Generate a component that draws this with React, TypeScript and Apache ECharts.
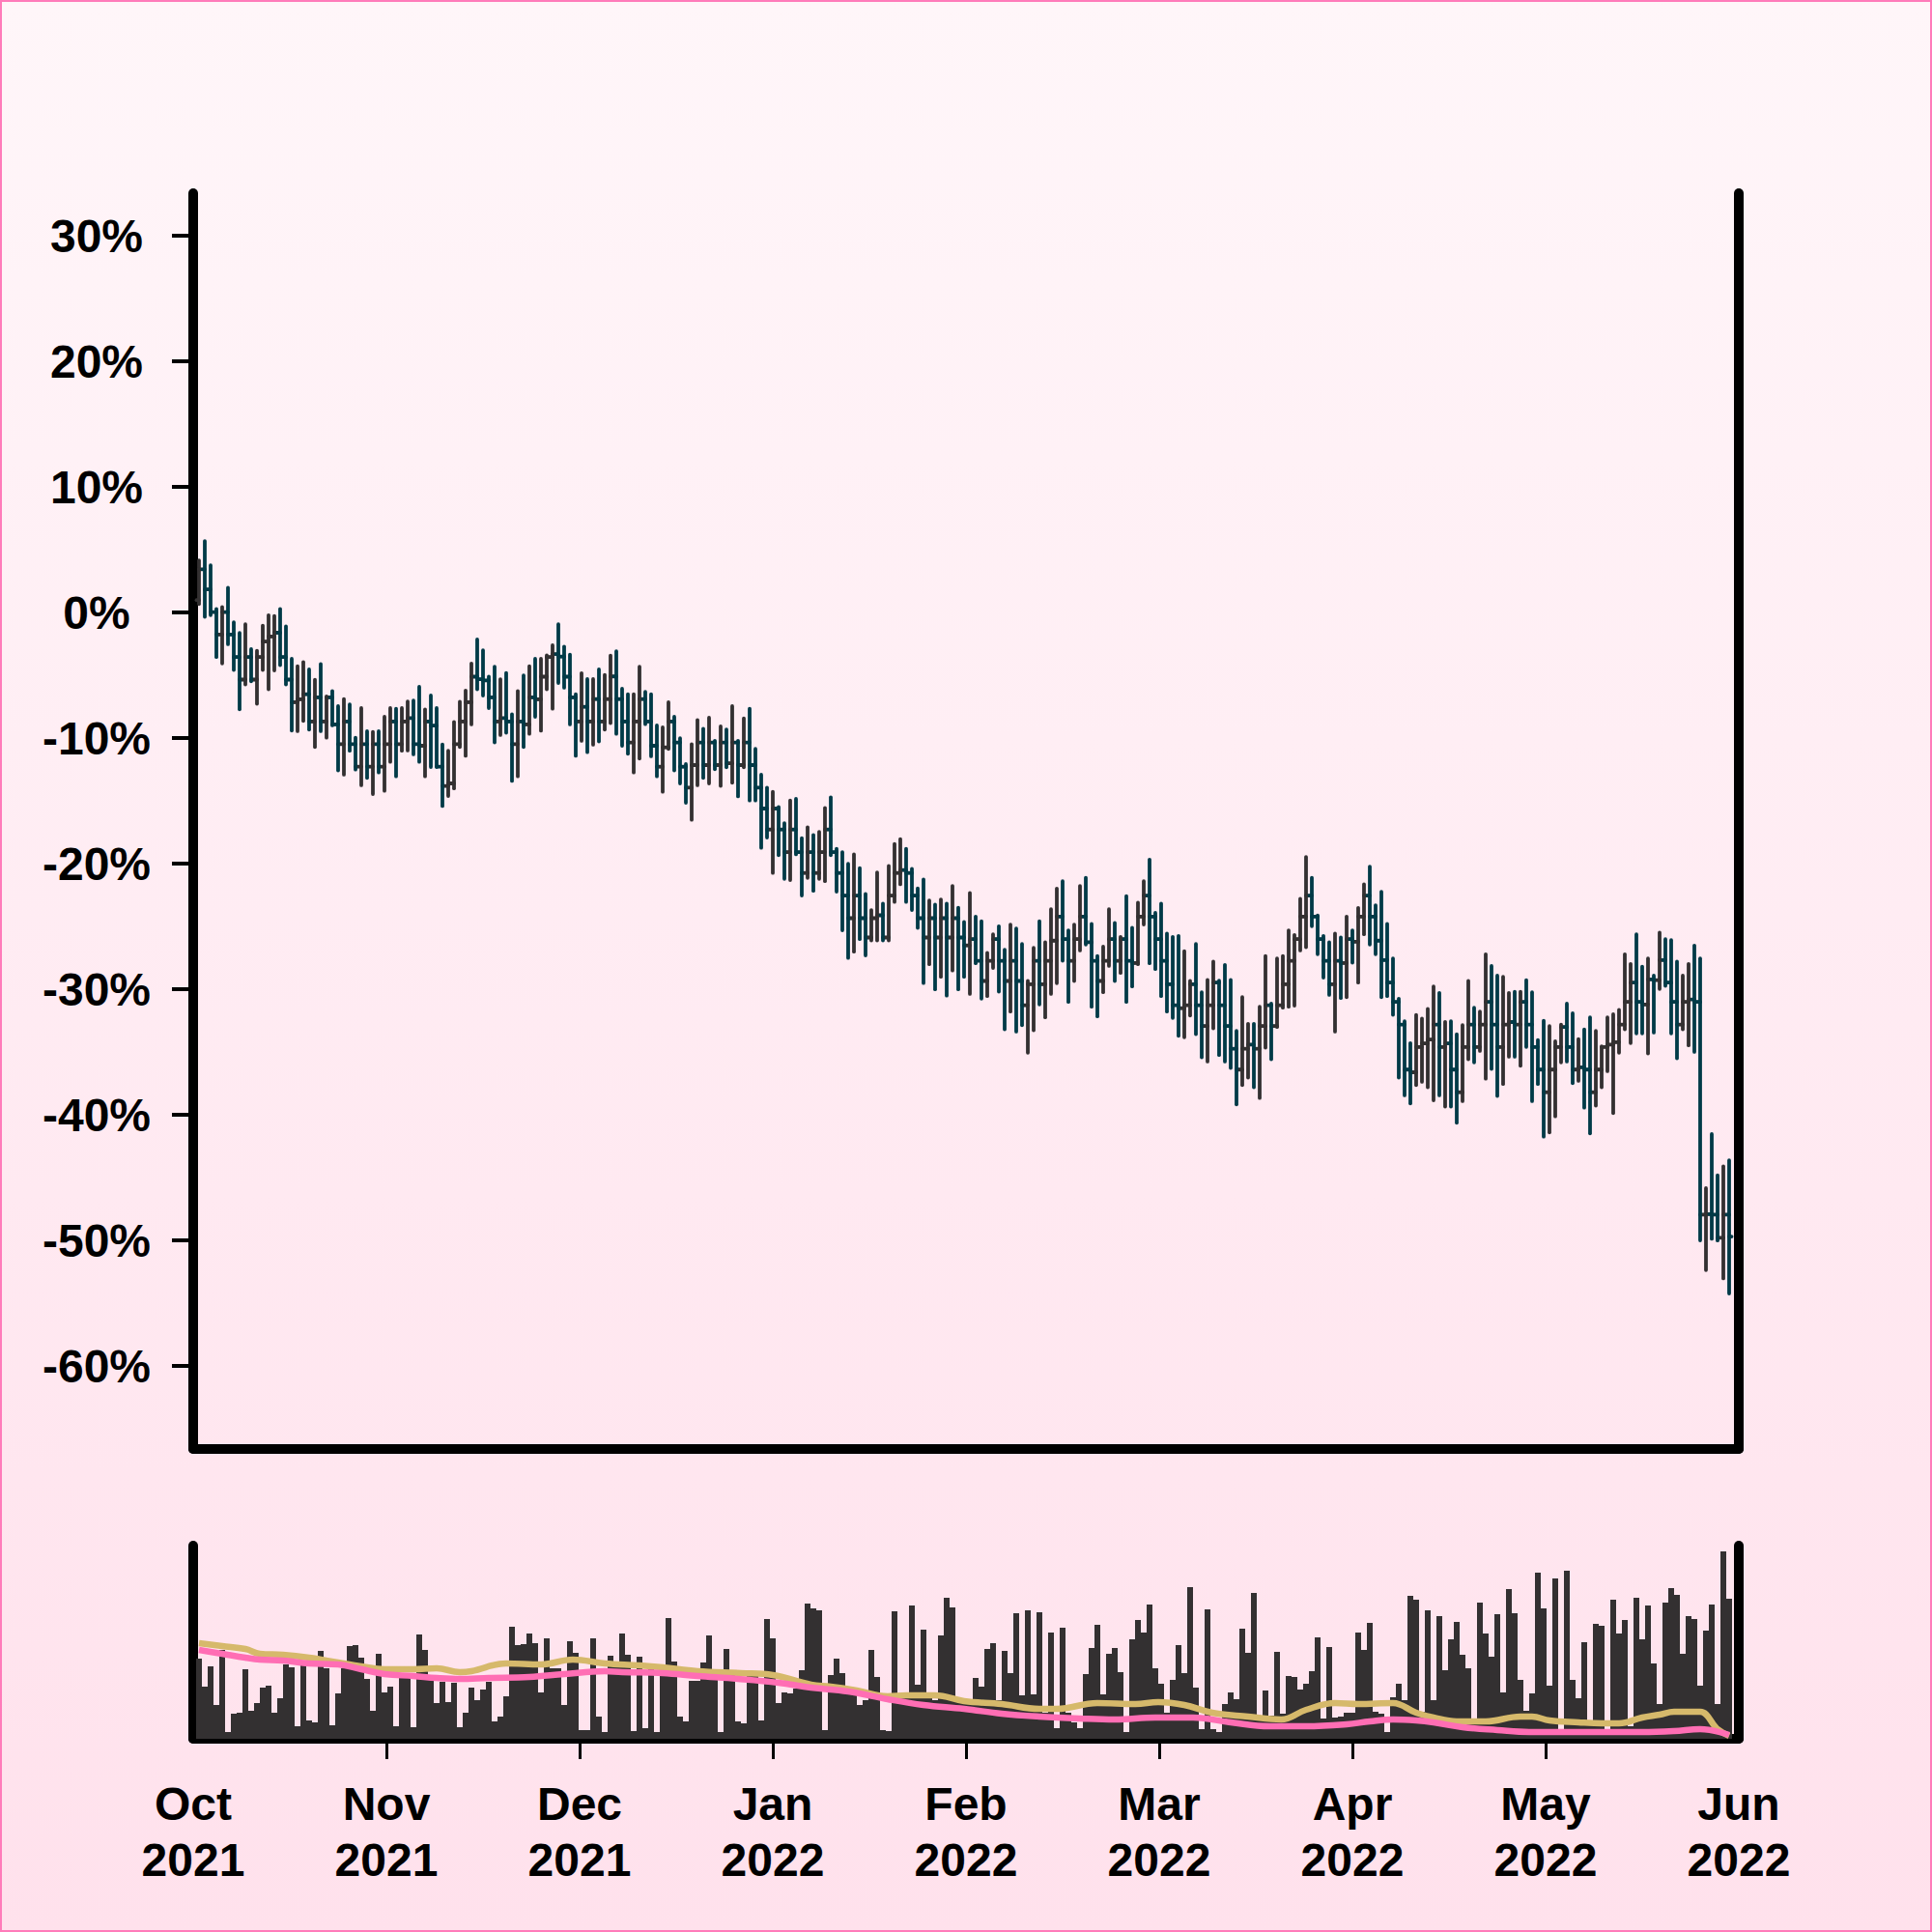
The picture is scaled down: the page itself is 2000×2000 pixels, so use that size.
import React, { useEffect, useRef } from 'react';
import * as echarts from 'echarts';

// ---------- data ----------
const monthNames = ['Oct', 'Nov', 'Dec', 'Jan', 'Feb', 'Mar', 'Apr', 'May', 'Jun'];
const monthYears = ['2021', '2021', '2021', '2022', '2022', '2022', '2022', '2022', '2022'];
const yTickValues = [-60, -50, -40, -30, -20, -10, 0, 10, 20, 30];

const opens = [
  1.0, 3.45, 1.85, 0.05, -1.74, 0.05, -1.74, -3.54, -5.33, -3.54,
  -5.33, -3.54, -2.3, -1.9, -1.6, -3.54, -5.33, -7.13, -6.9, -6.5,
  -8.67, -6.75, -8.67, -6.75, -8.9, -10.47, -8.67, -10.47, -12.26, -10.47,
  -12.26, -10.47, -12.26, -10.47, -8.67, -10.47, -8.67, -8.4, -10.47, -10.6,
  -8.67, -9.0, -12.26, -13.8, -13.6, -10.47, -8.67, -7.13, -5.1, -5.3,
  -5.4, -6.75, -8.67, -8.4, -8.67, -10.47, -8.67, -8.9, -6.75, -6.9,
  -5.1, -3.54, -3.3, -3.5, -5.1, -6.75, -8.67, -7.5, -8.67, -6.88,
  -8.67, -6.88, -5.08, -6.88, -8.67, -10.34, -8.67, -6.88, -8.67, -10.6,
  -12.27, -10.73, -8.67, -10.34, -12.27, -13.93, -12.14, -10.34, -12.14, -10.34,
  -12.14, -10.34, -12.0, -10.34, -12.14, -10.34, -12.14, -13.93, -15.6, -17.27,
  -15.6, -17.27, -19.07, -17.27, -19.07, -20.73, -19.07, -20.73, -19.07, -17.27,
  -19.07, -20.73, -22.53, -24.33, -22.53, -24.33, -25.87, -24.33, -24.1, -25.87,
  -22.53, -20.73, -20.5, -20.73, -22.53, -24.33, -25.87, -24.33, -25.87, -24.33,
  -25.87, -24.33, -25.87, -26.5, -26.0, -27.72, -29.33, -27.72, -26.0, -27.72,
  -29.33, -27.72, -29.33, -31.26, -29.59, -27.72, -29.59, -27.72, -26.12, -24.2,
  -26.0, -27.72, -26.0, -24.2, -26.25, -27.72, -29.33, -27.72, -26.0, -27.72,
  -26.0, -27.72, -27.9, -24.2, -22.53, -24.2, -26.0, -27.72, -29.59, -31.26,
  -31.5, -31.26, -29.59, -31.26, -32.92, -31.26, -29.46, -31.26, -32.92, -34.72,
  -36.39, -34.72, -34.4, -34.72, -32.92, -31.26, -32.92, -31.26, -29.59, -27.72,
  -26.0, -24.2, -22.53, -24.2, -26.0, -27.72, -29.59, -27.72, -27.9, -26.0,
  -26.2, -24.2, -22.53, -24.2, -26.12, -27.66, -29.46, -31.0, -32.8, -36.39,
  -36.6, -34.59, -34.3, -34.0, -32.8, -34.59, -34.3, -36.39, -38.19, -34.59,
  -32.8, -34.59, -32.8, -31.0, -32.8, -34.59, -32.8, -32.6, -32.8, -31.0,
  -32.8, -34.59, -36.39, -38.19, -36.39, -34.59, -33.0, -34.59, -36.39, -36.2,
  -36.39, -38.19, -36.39, -34.59, -34.4, -34.2, -32.8, -31.0, -29.46, -31.0,
  -31.2, -29.2, -29.26, -27.66, -29.46, -31.0, -32.8, -31.0, -30.8, -31.0,
  -47.94, -47.9, -47.94, -49.78, -47.94,
];

const closes = [
  3.45, 1.85, 0.05, -1.74, 0.05, -1.74, -3.54, -5.33, -3.54, -5.33,
  -3.54, -2.3, -1.9, -1.6, -3.54, -5.33, -7.13, -6.9, -6.5, -8.67,
  -6.75, -8.67, -6.75, -8.9, -10.47, -8.67, -10.47, -12.26, -10.47, -12.26,
  -10.47, -12.26, -10.47, -8.67, -10.47, -8.67, -8.4, -10.47, -10.6, -8.67,
  -9.0, -12.26, -13.8, -13.6, -10.47, -8.67, -7.13, -5.1, -5.3, -5.4,
  -6.75, -8.67, -8.4, -8.67, -10.47, -8.67, -8.9, -6.75, -6.9, -5.1,
  -3.54, -3.3, -3.5, -5.1, -6.75, -8.67, -7.5, -8.67, -6.88, -8.67,
  -6.88, -5.08, -6.88, -8.67, -10.34, -8.67, -6.88, -8.67, -10.6, -12.27,
  -10.73, -8.67, -10.34, -12.27, -13.93, -12.14, -10.34, -12.14, -10.34, -12.14,
  -10.34, -12.0, -10.34, -12.14, -10.34, -12.14, -13.93, -15.6, -17.27, -15.6,
  -17.27, -19.07, -17.27, -19.07, -20.73, -19.07, -20.73, -19.07, -17.27, -19.07,
  -20.73, -22.53, -24.33, -22.53, -24.33, -25.87, -24.33, -24.1, -25.87, -22.53,
  -20.73, -20.5, -20.73, -22.53, -24.33, -25.87, -24.33, -25.87, -24.33, -25.87,
  -24.33, -25.87, -26.5, -26.0, -27.72, -29.33, -27.72, -26.0, -27.72, -29.33,
  -27.72, -29.33, -31.26, -29.59, -27.72, -29.59, -27.72, -26.12, -24.2, -26.0,
  -27.72, -26.0, -24.2, -26.25, -27.72, -29.33, -27.72, -26.0, -27.72, -26.0,
  -27.72, -27.9, -24.2, -22.53, -24.2, -26.0, -27.72, -29.59, -31.26, -31.5,
  -31.26, -29.59, -31.26, -32.92, -31.26, -29.46, -31.26, -32.92, -34.72, -36.39,
  -34.72, -34.4, -34.72, -32.92, -31.26, -32.92, -31.26, -29.59, -27.72, -26.0,
  -24.2, -22.53, -24.2, -26.0, -27.72, -29.59, -27.72, -27.9, -26.0, -26.2,
  -24.2, -22.53, -24.2, -26.12, -27.66, -29.46, -31.0, -32.8, -36.39, -36.6,
  -34.59, -34.3, -34.0, -32.8, -34.59, -34.3, -36.39, -38.19, -34.59, -32.8,
  -34.59, -32.8, -31.0, -32.8, -34.59, -32.8, -32.6, -32.8, -31.0, -32.8,
  -34.59, -36.39, -38.19, -36.39, -34.59, -33.0, -34.59, -36.39, -36.2, -36.39,
  -38.19, -36.39, -34.59, -34.4, -34.2, -32.8, -31.0, -29.46, -31.0, -31.2,
  -29.2, -29.26, -27.66, -29.46, -31.0, -32.8, -31.0, -30.8, -31.0, -47.94,
  -47.9, -47.94, -49.78, -47.94, -49.68,
];

const highs = [
  4.16, 5.7, 3.77, 0.3, 0.44, 1.98, -0.77, -1.62, -0.92, -2.9,
  -3.03, -1.03, -0.2, -0.26, 0.3, -1.1, -3.67, -4.26, -3.93, -4.52,
  -5.34, -4.1, -6.67, -6.24, -7.44, -6.88, -7.31, -9.96, -7.6, -9.44,
  -9.5, -9.44, -8.29, -7.6, -7.65, -7.6, -7.08, -7.0, -5.9, -7.7,
  -6.6, -7.6, -10.5, -11.0, -8.7, -7.1, -6.2, -4.05, -2.13, -3.0,
  -5.1, -4.3, -5.3, -4.8, -8.1, -6.24, -5.0, -4.26, -3.67, -3.67,
  -3.4, -2.6, -0.92, -2.7, -3.34, -6.5, -4.82, -5.29, -5.29, -4.52,
  -4.95, -3.41, -3.08, -6.06, -6.49, -6.49, -4.31, -6.31, -6.49, -8.98,
  -9.13, -7.13, -8.29, -10.0, -12.06, -10.47, -8.55, -9.24, -8.37, -10.2,
  -9.06, -9.3, -7.44, -10.2, -8.42, -7.65, -10.85, -12.9, -13.93, -14.27,
  -15.47, -16.76, -14.96, -14.83, -17.96, -17.09, -17.7, -17.45, -15.55, -14.7,
  -18.81, -19.07, -20.0, -19.25, -20.35, -22.4, -23.68, -20.68, -23.17, -20.17,
  -18.42, -18.04, -18.81, -20.4, -21.96, -21.25, -22.92, -23.25, -22.84, -23.17,
  -21.76, -23.5, -24.63, -22.33, -24.2, -24.58, -27.1, -25.61, -24.97, -26.84,
  -24.84, -25.15, -26.38, -29.33, -26.69, -24.58, -26.25, -23.61, -21.97, -21.38,
  -25.3, -24.84, -21.76, -21.12, -24.79, -27.35, -26.6, -23.61, -24.71, -25.82,
  -22.58, -25.1, -23.1, -21.38, -19.66, -23.9, -23.17, -25.56, -25.82, -25.74,
  -26.95, -29.33, -26.38, -30.23, -29.25, -27.79, -29.3, -28.05, -29.25, -33.31,
  -30.61, -32.74, -32.74, -31.38, -27.35, -31.13, -27.54, -27.35, -25.3, -25.66,
  -22.79, -19.45, -21.12, -24.12, -25.74, -26.25, -25.56, -25.87, -24.2, -25.3,
  -23.51, -21.63, -20.22, -23.3, -22.22, -24.79, -27.54, -30.74, -32.54, -34.28,
  -32.03, -32.33, -31.56, -29.77, -30.28, -32.59, -32.54, -33.57, -32.85, -29.33,
  -31.46, -31.77, -27.2, -28.13, -28.9, -29.0, -30.28, -30.18, -30.18, -29.26,
  -30.23, -34.03, -32.49, -32.92, -34.13, -32.8, -31.13, -31.9, -33.95, -33.18,
  -32.23, -33.31, -34.54, -32.23, -31.98, -31.64, -27.2, -27.97, -25.61, -28.18,
  -27.54, -28.9, -25.48, -26.0, -26.08, -27.79, -28.9, -27.97, -26.51, -27.54,
  -45.83, -41.52, -44.81, -44.09, -43.62,
];

const lows = [
  0.69, -0.33, -0.2, -3.54, -4.05, -2.52, -4.57, -7.7, -5.72, -5.47,
  -7.26, -4.57, -6.1, -4.6, -4.18, -5.72, -9.39, -9.44, -8.62, -9.31,
  -10.7, -9.44, -9.96, -8.98, -12.57, -12.9, -11.0, -12.5, -13.75, -13.16,
  -14.45, -12.73, -14.19, -11.88, -13.04, -11.0, -10.98, -11.29, -11.88, -13.04,
  -12.3, -12.3, -15.4, -14.6, -14.0, -10.7, -11.4, -8.9, -6.1, -6.6,
  -7.6, -10.34, -9.75, -9.57, -13.4, -13.04, -10.7, -9.65, -8.3, -9.4,
  -6.1, -7.65, -5.6, -5.98, -8.9, -11.4, -10.21, -11.11, -10.52, -10.26,
  -9.32, -8.8, -9.65, -10.6, -11.24, -12.73, -11.62, -8.88, -11.44, -13.04,
  -14.27, -10.85, -12.57, -13.6, -15.14, -16.5, -13.75, -13.16, -13.6, -12.47,
  -13.8, -12.32, -13.55, -14.63, -12.32, -14.96, -14.96, -18.73, -17.91, -20.73,
  -19.32, -21.2, -21.3, -19.25, -22.53, -21.12, -22.15, -21.2, -21.38, -19.32,
  -22.22, -25.3, -27.5, -27.0, -26.0, -27.3, -26.1, -26.1, -26.1, -26.1,
  -23.04, -21.63, -23.04, -23.68, -25.1, -29.5, -28.0, -30.0, -29.0, -30.5,
  -28.5, -30.0, -29.0, -30.36, -27.92, -30.74, -30.54, -28.3, -30.18, -33.18,
  -31.77, -33.36, -32.85, -35.05, -33.26, -31.2, -32.23, -30.36, -29.51, -27.72,
  -31.0, -29.33, -26.9, -26.43, -31.38, -32.15, -30.23, -28.13, -29.33, -28.69,
  -31.0, -29.77, -28.0, -24.84, -27.92, -28.38, -30.54, -31.77, -32.28, -33.7,
  -33.82, -32.08, -33.57, -35.41, -35.75, -33.1, -35.23, -35.75, -36.26, -39.16,
  -37.62, -37.03, -37.8, -38.65, -34.64, -35.57, -33.0, -31.46, -31.38, -31.3,
  -26.9, -26.64, -24.97, -27.2, -29.07, -30.44, -33.36, -30.69, -30.62, -27.87,
  -29.46, -25.61, -26.43, -27.2, -30.62, -30.54, -32.03, -37.03, -38.44, -39.08,
  -37.62, -37.36, -37.8, -38.83, -38.44, -39.34, -39.34, -40.62, -38.9, -35.57,
  -35.82, -34.9, -37.11, -36.34, -38.49, -37.54, -35.36, -35.36, -36.08, -34.59,
  -38.9, -37.54, -41.73, -41.39, -40.11, -35.82, -35.75, -37.47, -37.29, -39.42,
  -41.47, -39.26, -37.8, -36.52, -39.85, -35.05, -33.18, -34.28, -33.51, -33.51,
  -35.1, -33.44, -29.97, -29.72, -33.51, -35.49, -33.18, -34.46, -34.98, -49.99,
  -52.35, -49.86, -50.0, -53.02, -54.22,
];

const volumes = [
  83, 54, 75, 35, 92, 7, 26, 27, 72, 29,
  37, 53, 55, 27, 42, 77, 74, 13, 76, 19,
  17, 91, 73, 14, 47, 73, 96, 97, 84, 62,
  29, 88, 48, 54, 13, 63, 63, 12, 108, 92,
  63, 37, 59, 38, 58, 12, 27, 53, 40, 51,
  59, 18, 23, 44, 116, 97, 98, 109, 99, 48,
  104, 73, 73, 35, 101, 89, 9, 9, 104, 23,
  7, 86, 76, 109, 87, 8, 85, 11, 73, 7,
  73, 125, 80, 23, 18, 60, 60, 79, 107, 72,
  7, 93, 68, 18, 16, 65, 65, 19, 124, 104,
  37, 48, 47, 52, 71, 140, 135, 133, 9, 66,
  83, 68, 53, 50, 35, 40, 92, 64, 9, 8,
  132, 45, 45, 138, 56, 113, 43, 40, 107, 146,
  136, 43, 40, 41, 63, 54, 93, 99, 40, 91,
  68, 130, 45, 133, 46, 131, 27, 110, 11, 115,
  27, 17, 11, 67, 94, 118, 46, 88, 94, 69,
  7, 103, 123, 110, 139, 73, 57, 27, 61, 97,
  68, 157, 53, 10, 134, 10, 7, 36, 48, 41,
  114, 89, 151, 24, 50, 24, 90, 26, 65, 64,
  51, 57, 70, 105, 21, 95, 22, 23, 27, 27,
  110, 92, 120, 28, 26, 7, 43, 57, 40, 148,
  144, 28, 133, 40, 127, 71, 103, 121, 87, 73,
  21, 141, 109, 85, 129, 48, 155, 130, 61, 29,
  47, 172, 135, 55, 166, 7, 174, 61, 42, 100,
  18, 119, 117, 9, 144, 109, 123, 13, 146, 103,
  138, 78, 36, 141, 156, 149, 88, 127, 124, 55,
  112, 139, 36, 194, 145,
];

// moving-average lines drawn in the volume panel: [bar index, value]
const goldMA = [
  [0, 99], [4, 96], [8, 93], [10.5, 88], [14.5, 87], [19, 84], [24, 79], [28, 75], [32, 72], [37, 72],
  [41, 73], [45, 69], [47, 70], [53, 78], [59, 77], [64.5, 82], [70, 78], [76, 76], [80, 74], [86, 70],
  [93.5, 68], [99, 66], [105.6, 56], [109, 54], [113.5, 50], [118.8, 44], [122, 45], [127, 45], [132, 39],
  [138.5, 36], [145, 31], [148, 31], [155, 37], [161.6, 36], [165.5, 38], [170, 35], [174.8, 27], [181, 23],
  [186.7, 20], [191, 30], [196, 37], [200, 36], [206, 37], [210, 27], [213, 22], [217, 18], [222, 18],
  [228, 23], [230, 23], [233, 19], [238, 17], [242, 16], [245, 16], [249, 22], [252, 25], [254.5, 28],
  [259, 28], [262, 10], [264, 3],
];
const pinkMA = [
  [0, 92], [4, 88], [8, 84], [10.5, 82], [14.5, 81], [19, 78], [24, 77], [28, 72], [32, 67], [37, 65],
  [41, 63], [45, 62], [50, 63], [57, 64], [63, 67], [70, 70], [73, 69], [80, 68], [86, 65], [93, 62],
  [100, 58], [105.6, 53], [112, 49], [118.8, 41], [125, 35], [132, 31], [138.5, 26], [145, 23], [152, 21],
  [158, 20], [165, 22], [171.5, 22], [178, 17], [184.7, 13], [191, 13], [198, 15], [202, 18], [206, 20],
  [210, 19], [213, 17], [218, 12], [224, 9], [229.5, 7], [235, 7], [243.5, 7], [249, 7], [254.5, 8],
  [259, 10], [264, 4],
];

// ---------- styling / layout ----------
const FONT = "'Liberation Sans', Arial, Helvetica, sans-serif";
const TEAL = '#013a47';
const GRAY = '#333031';
const SLOTS_PER_MONTH = 100 / 3;
const X_MIN = -1;
const X_MAX = X_MIN + 8 * SLOTS_PER_MONTH;
const monthPositions = monthNames.map((_, m) => X_MIN + m * SLOTS_PER_MONTH);

const axisLineStyle = { color: '#000', width: 10, cap: 'round' as const };

export default function App() {
  const ref = useRef<HTMLDivElement>(null);

  useEffect(() => {
    if (!ref.current) return;
    const chart = echarts.init(ref.current, undefined, { renderer: 'svg' });

    const ohlcData = closes.map((c, i) => [i, opens[i], c, lows[i], highs[i]]);
    const volData = volumes.map((v, i) => [i, v]);

    const plainAxis = (gridIndex: number, position: string, min: number, max: number) => ({
      gridIndex,
      type: 'value',
      position,
      min,
      max,
      axisLine: { show: true, onZero: false, lineStyle: axisLineStyle },
      axisTick: { show: false },
      axisLabel: { show: false },
      splitLine: { show: false },
    });

    const option: any = {
      animation: false,
      backgroundColor: {
        type: 'linear',
        x: 0, y: 0, x2: 0, y2: 1,
        colorStops: [
          { offset: 0, color: '#fff6f9' },
          { offset: 1, color: '#ffe1ec' },
        ],
      },
      graphic: [
        {
          type: 'rect',
          silent: true,
          z: 100,
          shape: { x: 1, y: 1, width: 1998, height: 1998 },
          style: { fill: 'none', stroke: '#ff7bba', lineWidth: 2 },
        },
      ],
      grid: [
        { left: 200, right: 200, top: 200, height: 1300 },
        { left: 200, right: 200, top: 1600, height: 200 },
      ],
      xAxis: [
        plainAxis(0, 'bottom', X_MIN, X_MAX),
        {
          gridIndex: 1,
          type: 'value',
          position: 'bottom',
          min: X_MIN,
          max: X_MAX,
          axisLine: { show: true, onZero: false, lineStyle: axisLineStyle },
          axisTick: {
            show: true,
            customValues: monthPositions.slice(1, -1),
            length: 21,
            lineStyle: { color: '#000', width: 3 },
          },
          axisLabel: {
            show: true,
            customValues: monthPositions,
            formatter: (v: number) => {
              const m = Math.round((v - X_MIN) / SLOTS_PER_MONTH);
              return `${monthNames[m]}\n${monthYears[m]}`;
            },
            fontFamily: FONT,
            fontWeight: 'bold',
            fontSize: 48,
            lineHeight: 58,
            color: '#000',
            margin: 38,
          },
          splitLine: { show: false },
        },
      ],
      yAxis: [
        {
          gridIndex: 0,
          type: 'value',
          position: 'left',
          min: -66.6,
          max: 33.4,
          axisLine: { show: true, onZero: false, lineStyle: axisLineStyle },
          axisTick: {
            show: true,
            customValues: yTickValues,
            length: 22,
            lineStyle: { color: '#000', width: 4 },
          },
          axisLabel: {
            show: true,
            customValues: yTickValues,
            formatter: (v: number) => `${v}%`,
            fontFamily: FONT,
            fontWeight: 'bold',
            fontSize: 48,
            color: '#000',
            align: 'center',
            margin: 100,
          },
          splitLine: { show: false },
        },
        plainAxis(0, 'right', -66.6, 33.4),
        plainAxis(1, 'left', 0, 200),
        plainAxis(1, 'right', 0, 200),
      ],
      series: [
        {
          type: 'custom',
          xAxisIndex: 0,
          yAxisIndex: 0,
          data: ohlcData,
          encode: { x: 0, y: [1, 2, 3, 4] },
          clip: false,
          z: 5,
          renderItem: (params: any, api: any) => {
            const k = api.value(0);
            const o = api.value(1);
            const c = api.value(2);
            const l = api.value(3);
            const h = api.value(4);
            const pH = api.coord([k, h]);
            const pL = api.coord([k, l]);
            const pO = api.coord([k, o]);
            const pC = api.coord([k, c]);
            const half = api.size([1, 0])[0] * 0.42;
            const color = c < o ? TEAL : GRAY;
            const style = { stroke: color, lineWidth: 3.8, lineCap: 'round' };
            return {
              type: 'group',
              children: [
                { type: 'line', shape: { x1: pH[0], y1: pH[1], x2: pL[0], y2: pL[1] }, style },
                { type: 'line', shape: { x1: pO[0] - half, y1: pO[1], x2: pO[0], y2: pO[1] }, style },
                { type: 'line', shape: { x1: pC[0], y1: pC[1], x2: pC[0] + half, y2: pC[1] }, style },
              ],
            };
          },
        },
        {
          type: 'bar',
          xAxisIndex: 1,
          yAxisIndex: 2,
          data: volData,
          barWidth: 6,
          itemStyle: { color: GRAY },
          z: 2,
        },
        {
          type: 'line',
          xAxisIndex: 1,
          yAxisIndex: 2,
          data: goldMA,
          smooth: 0.4,
          symbol: 'none',
          lineStyle: { color: '#d6b96b', width: 6.5 },
          z: 3,
        },
        {
          type: 'line',
          xAxisIndex: 1,
          yAxisIndex: 2,
          data: pinkMA,
          smooth: 0.4,
          symbol: 'none',
          lineStyle: { color: '#ff6eb4', width: 6.5 },
          z: 4,
        },
      ],
    };

    chart.setOption(option);
    return () => chart.dispose();
  }, []);

  return (
    <div
      ref={ref}
      style={{ position: 'absolute', left: 0, top: 0, width: 2000, height: 2000 }}
    />
  );
}
